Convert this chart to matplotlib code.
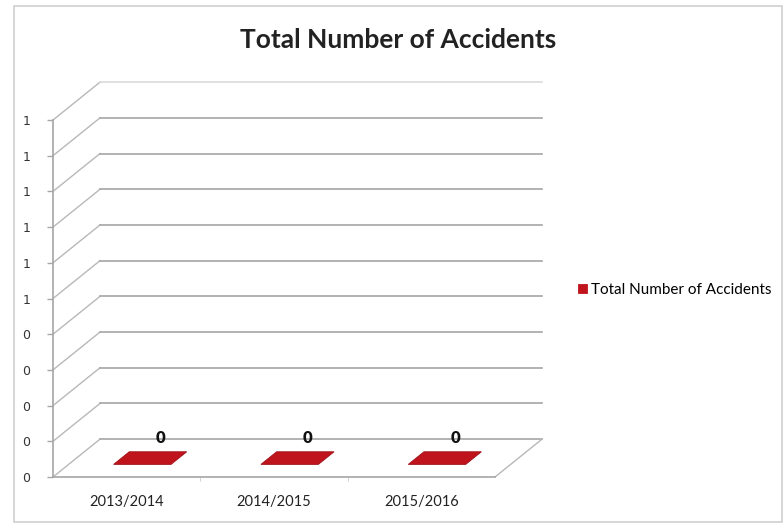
import numpy as np
import matplotlib.pyplot as plt
from matplotlib.patches import Polygon, Rectangle

# data
seasons = ['2013/2014', '2014/2015', '2015/2016']
accidents = [0, 0, 0]
series_name = 'Total Number of Accidents'
y_ticks = np.linspace(0, 1, 11)

BAR_RED = '#C0141C'
GRID = '#a6a6a6'
DX, DY = 0.319, 0.106      # oblique depth offset in data units
BAR_W = 0.39
D0, D1 = 1 / 3, 2 / 3      # bar depth range (fraction of floor depth)

plt.rcParams['font.family'] = ['Lato', 'DejaVu Sans']

fig = plt.figure(figsize=(7.84, 5.24), dpi=100)
fig.patches.append(Rectangle((14 / 784, 2 / 524), 768 / 784, 516 / 524,
                             transform=fig.transFigure, fill=False,
                             edgecolor='#cfcfcf', linewidth=1.2))

ax = fig.add_axes([53 / 784, 47 / 524, 442 / 784, 357 / 524])
ax.set_xlim(0, len(seasons))
ax.set_ylim(0, 1)
ax.patch.set_alpha(0)

# back wall gridlines + diagonals on the side wall
for v in y_ticks:
    col = '#dadada' if v == y_ticks[-1] else GRID
    ax.plot([0, DX], [v, v + DY], color='#b8b8b8', lw=1.0, clip_on=False, zorder=1)
    ax.plot([DX, len(seasons) + DX], [v + DY, v + DY], color=col, lw=1.2,
            clip_on=False, zorder=1)
# right floor edge
ax.plot([len(seasons), len(seasons) + DX], [0, DY], color='#b8b8b8', lw=1.0,
        clip_on=False, zorder=1)

# flat 3D columns
for i, v in enumerate(accidents):
    x0 = i + 0.5 - BAR_W / 2
    x1 = i + 0.5 + BAR_W / 2
    top = [(x0 + DX * D0, v + DY * D0), (x1 + DX * D0, v + DY * D0),
           (x1 + DX * D1, v + DY * D1), (x0 + DX * D1, v + DY * D1)]
    ax.add_patch(Polygon(top, closed=True, facecolor=BAR_RED, edgecolor='#a01018',
                         lw=0.6, clip_on=False, zorder=3,
                         label=series_name if i == 0 else None))
    ax.annotate(f'{v}', (i + 0.5 + DX * 0.72, v + DY * 0.82), ha='center',
                va='bottom', fontsize=12, fontweight='heavy', color='#111111',
                zorder=4, annotation_clip=False)

# axes styling
for s in ['top', 'right']:
    ax.spines[s].set_visible(False)
for s in ['left', 'bottom']:
    ax.spines[s].set_color(GRID)
    ax.spines[s].set_linewidth(1.2)

ax.set_yticks(y_ticks)
ax.set_yticklabels([f'{np.floor(v + 0.5 + 1e-9):.0f}' for v in y_ticks],
                   family='DejaVu Sans', fontsize=9, color='#333333')
ax.tick_params(axis='y', direction='out', length=4.5, width=1, color=GRID, pad=12)

ax.set_xticks(np.arange(len(seasons)) + 0.5)
ax.set_xticklabels(seasons, fontsize=10.5, color='#222222')
ax.set_xticks(np.arange(1, len(seasons)), minor=True)
ax.tick_params(axis='x', which='major', length=0, pad=13)
ax.tick_params(axis='x', which='minor', direction='out', length=3, color='#cccccc')

fig.text(398 / 784, 1 - 40 / 524, 'Total Number of Accidents', ha='center',
         va='center', fontsize=19, fontweight='bold', color='#222222')

fig.legend(loc='center left', bbox_to_anchor=(572 / 784, 1 - 290 / 524),
           frameon=False, fontsize=11, handlelength=0.55, handleheight=0.55,
           handletextpad=0.3, borderaxespad=0)
for h in fig.legends[0].legend_handles:
    h.set_edgecolor(BAR_RED)

fig.savefig('out.png', dpi=100)
